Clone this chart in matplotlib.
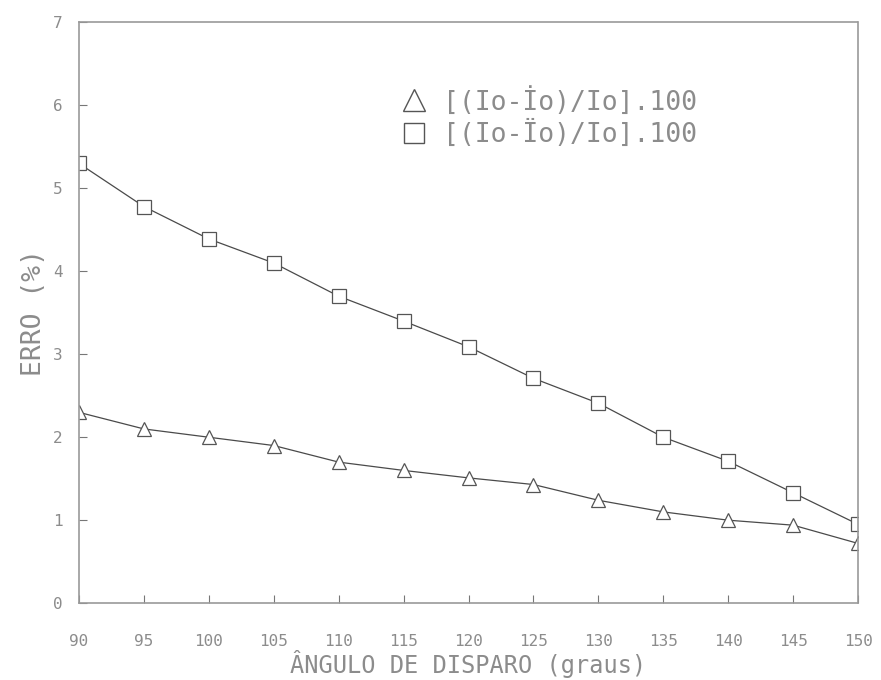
import matplotlib
matplotlib.use("Agg")
import matplotlib.pyplot as plt
from matplotlib.lines import Line2D

# angles (degrees) and relative errors (%)
angles = [90, 95, 100, 105, 110, 115, 120, 125, 130, 135, 140, 145, 150]
err_tri = [2.30, 2.10, 2.00, 1.90, 1.70, 1.60, 1.51, 1.43, 1.24, 1.10, 1.00, 0.94, 0.72]
err_sq = [5.30, 4.78, 4.39, 4.10, 3.70, 3.40, 3.09, 2.71, 2.41, 2.00, 1.71, 1.33, 0.95]
labels = ["[(Io-İo)/Io].100", "[(Io-Ïo)/Io].100"]

TXT = "#8c8c8c"
LN = "#4a4a4a"
plt.rcParams["font.family"] = ["DejaVu Sans Mono", "DejaVu Sans"]

fig = plt.figure(figsize=(8.81, 6.80), dpi=100)
ax = fig.add_axes([0.0897, 0.113, 0.8843, 0.854])

ax.plot(angles, err_tri, color=LN, lw=0.9, marker="^", ms=10,
        mfc="white", mec="#555555", mew=0.9)
ax.plot(angles, err_sq, color=LN, lw=0.9, marker="s", ms=9.5,
        mfc="white", mec="#555555", mew=0.9)

ax.set_xlim(90, 150)
ax.set_ylim(0, 7)
ax.set_xticks(range(90, 151, 5))
ax.set_yticks(range(0, 8))
ax.tick_params(direction="in", length=6, color="#777777", labelcolor=TXT,
               labelsize=11.5)
ax.tick_params(axis="x", pad=22)
ax.tick_params(axis="y", pad=12)
for s in ax.spines.values():
    s.set_color("#9a9a9a")
    s.set_linewidth(1.2)
    s.set_linestyle((0, (1, 1)))

ax.set_xlabel("ÂNGULO DE DISPARO (graus)", fontsize=17, color=TXT, labelpad=1)
ax.set_ylabel("ERRO (%)", fontsize=19, color=TXT, labelpad=4)

handles = [Line2D([], [], ls="none", marker="^", ms=16, mfc="white", mec="#555555"),
           Line2D([], [], ls="none", marker="s", ms=15, mfc="white", mec="#555555")]
ax.legend(handles, labels, loc="upper left", bbox_to_anchor=(0.383, 0.93),
          frameon=False, fontsize=19, labelcolor=TXT, handlelength=1.0,
          handletextpad=0.6, labelspacing=0.15)

fig.savefig("out.png", dpi=100)
